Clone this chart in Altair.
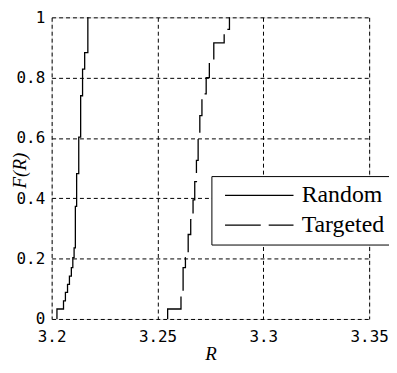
import altair as alt
import pandas as pd

# Random (solid) step curve: R positions and cumulative F(R) after each step
random_r = [3.2025, 3.2025, 3.2056, 3.2065, 3.2075, 3.2084, 3.2093, 3.2100, 3.2106,
            3.2112, 3.2118, 3.2128, 3.2137, 3.2146, 3.2156, 3.2171]
random_f = [0.0, 0.033, 0.06, 0.088, 0.115, 0.142, 0.17, 0.203, 0.236,
            0.373, 0.482, 0.603, 0.74, 0.828, 0.883, 1.0]

# Targeted (dashed) step curve
targeted_r = [3.2548, 3.2548, 3.2611, 3.2621, 3.2632, 3.2645, 3.2657, 3.2668, 3.2676,
              3.2684, 3.2692, 3.2700, 3.2710, 3.2730, 3.2745, 3.2766, 3.2815, 3.2840]
targeted_f = [0.0, 0.033, 0.075, 0.17, 0.203, 0.28, 0.329, 0.395, 0.455,
              0.526, 0.609, 0.674, 0.746, 0.80, 0.855, 0.915, 0.96, 1.0]

series_names = ["Random", "Targeted"]
x_ticks = [3.2, 3.25, 3.3, 3.35]
y_ticks = [0, 0.2, 0.4, 0.6, 0.8, 1]

rows = []
for name, rs, fs in [("Random", random_r, random_f), ("Targeted", targeted_r, targeted_f)]:
    for i, (r, f) in enumerate(zip(rs, fs)):
        rows.append({"series": name, "R": r, "F": f, "idx": i})
df = pd.DataFrame(rows)

tick_font = "DejaVu Sans Mono"
serif = "Liberation Serif, Times New Roman, serif"

chart = alt.Chart(df).mark_line(interpolate="step-after", color="black", strokeWidth=1.3).encode(
    x=alt.X("R:Q",
            scale=alt.Scale(domain=[3.2, 3.35], nice=False, zero=False),
            axis=alt.Axis(values=x_ticks, format=".2~f", title="R", ticks=False,
                          grid=True, gridColor="black", gridDash=[4, 3], gridOpacity=1, gridWidth=1,
                          domain=False, labelFont=tick_font, labelFontSize=16, labelColor="black",
                          labelPadding=10, labelFlush=False,
                          titleFont=serif, titleFontStyle="italic",
                          titleFontWeight="normal", titleFontSize=19, titleColor="black",
                          titleY=26, titleBaseline="top")),
    y=alt.Y("F:Q",
            scale=alt.Scale(domain=[0, 1], nice=False),
            axis=alt.Axis(values=y_ticks, format="~g", title="F(R)", ticks=False,
                          grid=True, gridColor="black", gridDash=[4, 3], gridOpacity=1, gridWidth=1,
                          domain=False, labelFont=tick_font, labelFontSize=16, labelColor="black",
                          labelPadding=7, labelFlush=False,
                          titleFont=serif, titleFontStyle="italic",
                          titleFontWeight="normal", titleFontSize=19, titleColor="black",
                          titleX=-32, titleY=154, titleAlign="center", titleBaseline="middle",
                          titleAngle=270)),
    strokeDash=alt.StrokeDash("series:N",
                              scale=alt.Scale(domain=series_names, range=[[1, 0], [36, 8]]),
                              legend=alt.Legend(title=None, orient="none", legendX=161, legendY=160,
                                                symbolType="M-0.5,0H5.5", symbolSize=529,
                                                symbolStrokeColor="black", symbolStrokeWidth=1.3,
                                                labelFont=serif, labelFontSize=24,
                                                labelColor="black", labelOffset=59,
                                                padding=7, rowPadding=5,
                                                strokeColor="black", fillColor="white")),
    order="idx:Q",
).properties(
    width=320,
    height=304,
    autosize=alt.AutoSizeParams(type="none"),
    padding={"left": 44, "top": 8, "right": 20, "bottom": 45},
).configure_view(
    stroke="black", strokeWidth=1.3
).configure(background="white")

chart.save("out.html", embed_options={"renderer": "svg", "actions": False})
